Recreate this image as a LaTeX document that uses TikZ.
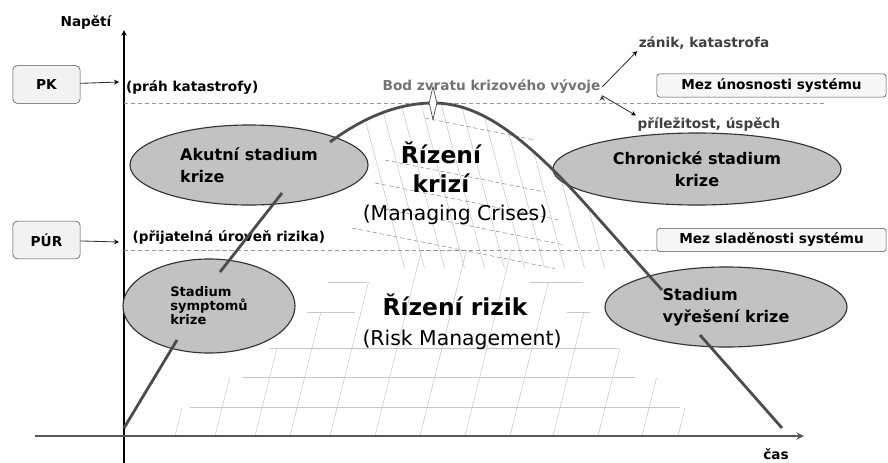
\documentclass[tikz,border=0pt]{standalone}
\usepackage{fontspec}
\setmainfont{DejaVu Sans}
\usetikzlibrary{shapes.geometric}

\begin{document}
\begin{tikzpicture}[x=0.025cm,y=-0.025cm,>=stealth,
	lbl/.style={font=\bfseries\fontsize{9.7}{11}\selectfont,inner sep=1pt},
	tag/.style={draw=black!70,fill=black!5,rounded corners=3pt,font=\bfseries\fontsize{9.7}{11}\selectfont,minimum width=1.68cm,minimum height=0.94cm},
	mez/.style={draw=black!70,fill=black!3,rounded corners=2pt,font=\bfseries\fontsize{9.7}{11}\selectfont,minimum width=5.73cm,minimum height=0.58cm,inner sep=0pt},
	stage/.style={ellipse,draw=black!80,fill=black!24,line width=0.8pt,inner sep=0pt,font=\bfseries\fontsize{11.4}{16}\selectfont,align=left},
	limit/.style={draw=black!40,densely dashed,line width=0.6pt},
	curve/.style={draw=black!70,line width=2pt},
	hatch/.style={draw=black!22,line width=0.4pt},
	conn/.style={->,draw=black!80,line width=0.6pt}]
	\useasboundingbox (0,0) rectangle (888,462);

	\begin{scope}
		\clip (330,142) .. controls (360,120) and (395,101) .. (433,101) .. controls (480,101) and (525,135) .. (597,217) -- (662,290) -- (662,268) -- (340,268) -- cycle;
		\foreach \x in {360,380,...,560}
			\draw[hatch] (\x,100) -- ++(45,170);
	\end{scope}
	\foreach \y/\l/\r in {118/425/535,160/385/545,183/375/560,205/365/565,228/352/555}
		\draw[hatch,draw=black!45,densely dashed] (\l,\y) -- (\r,{\y+0.2*(\r-\l)});
	\foreach \y/\l/\r in {348/270/618,377/242/635,407/190/680,282/328/367,282/530/583,312/307/355,312/567/590}
		\draw[hatch] (\l,\y) -- (\r,\y);
	\foreach \x/\t in {175/408,215/378,255/348,290/312,330/282,375/250,420/250,465/250,510/282,553/312,598/348,642/378,678/408}
		\draw[hatch] (\x,436) -- ({\x+0.25*(436-\t)},\t);

	\coordinate (ytop) at (124,30);
	\coordinate (ybot) at (124,470);
	\coordinate (xl) at (35,436);
	\coordinate (xr) at (804,436);
	\draw[->,line width=0.8pt] (ybot) -- (ytop);
	\draw[->,draw=black!65,line width=1.4pt] (xl) -- (xr);
	\node[lbl] (napeti) at (86,22) {Napětí};
	\node[lbl] (cas) at (776,454) {čas};

	\coordinate (pkl) at (124,103);
	\coordinate (pkr) at (827,103);
	\coordinate (purl) at (124,250);
	\coordinate (purr) at (657,250);
	\draw[limit] (pkl) -- (pkr);
	\draw[limit] (purl) -- (purr);

	\node[tag] (pk) at (46.5,84.5) {PK};
	\node[tag] (pur) at (46.5,240) {PÚR};
	\coordinate (pkend) at (119,82);
	\coordinate (purend) at (119,242);
	\path[conn] (pk) edge (pkend)
		(pur) edge (purend);

	\node[lbl,anchor=west] (prah) at (124.5,88) {(práh katastrofy)};
	\node[lbl,anchor=west] (prij) at (131,238) {(přijatelná úroveň rizika)};
	\node[lbl,text=black!55] (bod) at (491.5,87) {Bod zvratu krizového vývoje};
	\node[lbl,text=black!75] (zanik) at (704,43) {zánik, katastrofa};
	\node[lbl,text=black!75] (prilez) at (709,124) {příležitost, úspěch};
	\path[conn] (bod.east) edge (zanik.south west)
		(bod.south east) edge (prilez.north west);

	\node[mez] (mez1) at (771.5,85.5) {Mez únosnosti systému};
	\node[mez] (mez2) at (771.5,240) {Mez sladěnosti systému};

	\node[stage,minimum width=5.95cm,minimum height=2cm] (akut) at (249,165) {Akutní stadium\\krize};
	\node[stage,align=center,minimum width=7.2cm,minimum height=1.8cm] (chron) at (697,169) {Chronické stadium\\krize};
	\node[stage,minimum width=4.3cm,minimum height=2.35cm,font=\bfseries\fontsize{9.3}{10}\selectfont] (symp) at (209,306) {Stadium\\symptomů\\krize};
	\node[stage,minimum width=6.05cm,minimum height=2cm] (vyres) at (726,307) {Stadium\\vyřešení krize};

	\coordinate (c0) at (124,428);
	\coordinate (c1) at (177,340);
	\coordinate (c2) at (220,272);
	\coordinate (c3) at (282,193);
	\coordinate (c4) at (330,142);
	\coordinate (top) at (433,103);
	\coordinate (c5) at (597,217);
	\coordinate (c6) at (662,290);
	\coordinate (c7) at (700,335);
	\coordinate (c8) at (782,428);
	\draw[curve] (c0) -- (c1) (c2) -- (c3)
		(c4) .. controls (360,120) and (395,103) .. (top) .. controls (480,103) and (525,135) .. (c5) -- (c6)
		(c7) -- (c8);
	\node[diamond,draw=black!70,fill=white,line width=0.5pt,inner sep=0pt,minimum width=0.2cm,minimum height=0.83cm] (peak) at (top) {};

	\node[font=\bfseries\fontsize{16.6}{20.6}\selectfont,align=center] (rk) at (441,167) {Řízení\\krizí};
	\node[font=\fontsize{14.5}{17}\selectfont] (mc) at (455,215) {(Managing Crises)};
	\node[font=\bfseries\fontsize{16.6}{20}\selectfont] (rr) at (455,305) {Řízení rizik};
	\node[font=\fontsize{14.5}{17}\selectfont] (rm) at (462,340) {(Risk Management)};
\end{tikzpicture}
\end{document}
